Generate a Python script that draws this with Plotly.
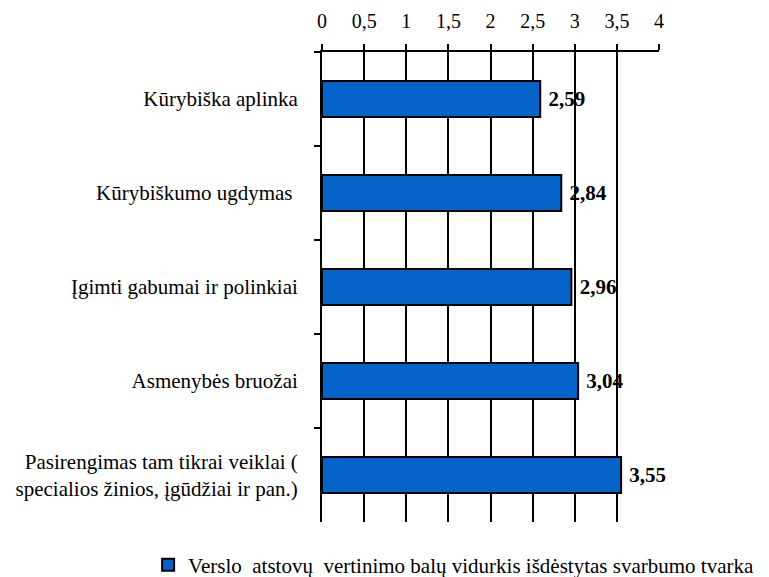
import plotly.graph_objects as go

categories = [
    "Kūrybiška aplinka",
    "Kūrybiškumo ugdymas\u00a0",
    "Įgimti gabumai ir polinkiai",
    "Asmenybės bruožai",
    "Pasirengimas tam tikrai veiklai (<br>specialios žinios, įgūdžiai ir pan.)",
]
values = [2.59, 2.84, 2.96, 3.04, 3.55]
tick_vals = [0, 0.5, 1, 1.5, 2, 2.5, 3, 3.5, 4]
tick_text = ["0", "0,5", "1", "1,5", "2", "2,5", "3", "3,5", "4"]
series_name = "Verslo\u00a0 atstovų\u00a0 vertinimo balų vidurkis išdėstytas svarbumo tvarka"

FONT = "Liberation Serif, Times New Roman, serif"

fig = go.Figure()
fig.add_trace(go.Bar(
    y=categories,
    x=values,
    orientation="h",
    name=series_name,
    width=0.385,
    marker=dict(color="#0563C9", line=dict(color="black", width=2)),
    text=["\u00a0<b>" + f"{v:.2f}".replace(".", ",") + "</b>" for v in values],
    textposition="outside",
    textfont=dict(family=FONT, size=21, color="black"),
    cliponaxis=False,
    showlegend=True,
))

fig.update_layout(
    width=761, height=569,
    margin=dict(l=314, r=110, t=44, b=55, autoexpand=False),
    paper_bgcolor="white", plot_bgcolor="white",
    font=dict(family=FONT, size=21, color="black"),
    showlegend=True,
    legend=dict(
        orientation="h", x=-0.516, xanchor="left", y=-0.0915, yanchor="middle",
        font=dict(family=FONT, size=21, color="black"),
        itemwidth=30, traceorder="normal",
    ),
    xaxis=dict(
        side="top", range=[0, 4], tickvals=tick_vals, ticktext=tick_text,
        showgrid=True, gridcolor="black", gridwidth=2,
        showline=True, linecolor="black", linewidth=2,
        ticks="outside", ticklen=6, tickwidth=2, tickcolor="black",
        zeroline=False, ticklabelstandoff=8, tickangle=0, automargin=False,
        tickfont=dict(family=FONT, size=20),
        fixedrange=True,
    ),
    yaxis=dict(
        autorange="reversed", type="category",
        showline=True, linecolor="black", linewidth=2,
        ticks="outside", tickson="boundaries", ticklen=6, tickwidth=2, tickcolor="black",
        showgrid=False, ticklabelstandoff=18, automargin=False,
        tickfont=dict(family=FONT, size=21),
        fixedrange=True,
    ),
)

fig.write_html("out.html")
